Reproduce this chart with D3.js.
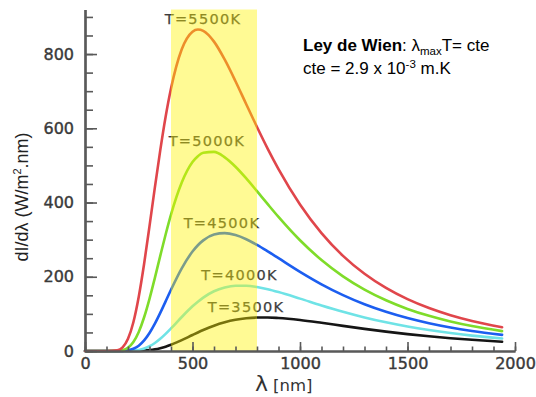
<!DOCTYPE html>
<html>
<head>
<meta charset="utf-8">
<script src="https://cdn.jsdelivr.net/npm/d3@7"></script>
<style>
  html, body { margin: 0; padding: 0; background: #fff; }
  svg { display: block; }
</style>
</head>
<body>
<svg id="chart" width="536" height="397"></svg>
<script>
// ---- data ----
const wavelengths = [0, 100, 150, 175, 200, 225, 250, 275, 300, 325, 350, 375, 400, 450, 500, 525, 550, 600, 650, 700, 750, 800, 850, 900, 1000, 1100, 1200, 1300, 1400, 1500, 1600, 1700, 1800, 1940];
const t5500 = [0, 0, 1.8, 9.8, 32.7, 77.5, 146.3, 235.1, 336.3, 440.8, 540.6, 631, 707, 812.8, 860.3, 866, 862.4, 833.4, 784.8, 726.8, 664.7, 603.3, 544.5, 490, 394.8, 317.7, 256.3, 208, 169.9, 139.6, 115.6, 96.3, 80.8, 63.9];
const t5000 = [0, 0, 0.3, 2.2, 8.8, 24.2, 51.4, 90.9, 140.6, 197.1, 256.2, 314, 367.5, 453.9, 509, 524.8, 534.2, 536.4, 521.8, 496.5, 465, 430.5, 395.5, 361.2, 298.3, 245.1, 201.1, 165.4, 136.7, 113.4, 94.7, 79.5, 67.1, 53.5];
const t4500 = [0, 0, 0, 0.35, 1.8, 5.9, 14.3, 28.4, 48.4, 73.7, 102.7, 133.8, 165.1, 222.8, 268, 284.9, 298, 313.7, 317.6, 312.5, 301.2, 285.9, 268.4, 250, 213.3, 179.7, 150.6, 126, 105.6, 88.8, 74.9, 63.4, 54, 43.4];
const t4000 = [0, 0, 0, 0, 0.24, 1, 2.9, 6.6, 12.8, 21.5, 32.8, 46.1, 60.8, 91.6, 120.4, 132.9, 143.9, 160.9, 171.1, 175.8, 175.8, 172.3, 166.3, 158.7, 141.1, 122.8, 105.7, 90.4, 77.2, 65.9, 56.4, 48.3, 41.5, 33.8];
const t3500 = [0, 0, 0, 0, 0, 0.1, 0.37, 1, 2.3, 4.4, 7.6, 11.7, 16.8, 29.2, 43.1, 49.9, 56.4, 68.2, 77.4, 84.1, 88.2, 90.1, 90.3, 88.9, 83.5, 75.9, 67.6, 59.6, 52.2, 45.5, 39.6, 34.5, 30.1, 24.9];

const seriesNames = ["T=3500K", "T=4000K", "T=4500K", "T=5000K", "T=5500K"];
const seriesValues = [t3500, t4000, t4500, t5000, t5500];
const seriesColors = ["#151515", "#6fe3e6", "#1c5ef0", "#7fdc2a", "#e0464b"];
// label centre points (wavelength, value) for the temperature labels
const labelLambda = [749, 719, 637, 567, 549];
const labelValue = [118, 205, 345, 566, 894];

const visibleBand = [400, 800];
const xTicksMajor = [0, 500, 1000, 1500, 2000];
const yTicksMajor = [0, 200, 400, 600, 800];

// ---- scales ----
const svg = d3.select("#chart");
const x = d3.scaleLinear().domain([0, 2000]).range([85, 515]);
const y = d3.scaleLinear().domain([0, 920]).range([351, 9.5]);

const axisColor = "#595959";

// ---- curves ----
const line = d3.line()
  .x(d => x(d[0]))
  .y(d => y(d[1]))
  .curve(d3.curveMonotoneX);

const curvesG = svg.append("g");
seriesValues.forEach((vals, i) => {
  const pts = wavelengths.map((w, j) => [w, vals[j]]);
  curvesG.append("path")
    .datum(pts)
    .attr("d", line)
    .attr("fill", "none")
    .attr("stroke", seriesColors[i])
    .attr("stroke-width", 2.6)
    .attr("stroke-linejoin", "round")
    .attr("stroke-linecap", "round");
});

// ---- temperature labels ----
const labelsG = svg.append("g");
seriesNames.forEach((name, i) => {
  labelsG.append("text")
    .attr("x", x(labelLambda[i]))
    .attr("y", y(labelValue[i]))
    .attr("dy", "0.36em")
    .attr("text-anchor", "middle")
    .attr("font-family", "DejaVu Sans, Verdana, sans-serif")
    .attr("font-size", 14.5)
    .attr("letter-spacing", 1.3)
    .attr("fill", "#3d3d3d")
    .attr("stroke", "#3d3d3d")
    .attr("stroke-width", 0.25)
    .text(name);
});

// ---- visible band (translucent yellow) ----
svg.append("rect")
  .attr("x", x(visibleBand[0]))
  .attr("width", x(visibleBand[1]) - x(visibleBand[0]))
  .attr("y", y(920))
  .attr("height", y(0) - y(920))
  .attr("fill", "#fff200")
  .attr("opacity", 0.42);

// ---- axes ----
const fmt = d3.format("d");
const yAxisMajor = d3.axisLeft(y).tickValues(yTicksMajor).tickSize(-12).tickSizeOuter(0).tickPadding(11).tickFormat(fmt);
const yAxisMinor = d3.axisLeft(y).tickValues(d3.range(0, 901, 50)).tickSize(-8).tickSizeOuter(0).tickFormat("");
const xAxisMajor = d3.axisBottom(x).tickValues(xTicksMajor).tickSize(-9).tickSizeOuter(0).tickPadding(7).tickFormat(fmt);
const xAxisMinor = d3.axisBottom(x).tickValues(d3.range(0, 2001, 100)).tickSize(-4.5).tickSizeOuter(0).tickFormat("");

function styleAxis(g) {
  g.select(".domain").attr("stroke", axisColor).attr("stroke-width", 2.2);
  g.selectAll(".tick line").attr("stroke", axisColor).attr("stroke-width", 1.6);
  g.selectAll(".tick text")
    .attr("fill", "#3a3a3a")
    .attr("stroke", "#3a3a3a")
    .attr("stroke-width", 0.4)
    .attr("font-family", "DejaVu Sans, Verdana, sans-serif")
    .attr("font-size", 16);
}

svg.append("g").attr("transform", `translate(${x(0)},0)`).call(yAxisMinor).call(styleAxis);
svg.append("g").attr("transform", `translate(${x(0)},0)`).call(yAxisMajor).call(styleAxis);
svg.append("g").attr("transform", `translate(0,${y(0)})`).call(xAxisMinor).call(styleAxis);
svg.append("g").attr("transform", `translate(0,${y(0)})`).call(xAxisMajor).call(styleAxis);

// ---- axis titles ----
const yTitle = svg.append("text")
  .attr("transform", "translate(28,197) rotate(-90)")
  .attr("text-anchor", "middle")
  .attr("font-family", "Liberation Sans, Arial, sans-serif")
  .attr("font-size", 18)
  .attr("fill", "#222");
yTitle.append("tspan").text("dI/dλ (W/m");
yTitle.append("tspan").attr("font-size", 11).attr("dy", -7).text("2");
yTitle.append("tspan").attr("dy", 7).text(".nm)");

const xTitle = svg.append("text")
  .attr("x", 255)
  .attr("y", 391)
  .attr("font-family", "DejaVu Sans, Verdana, sans-serif")
  .attr("fill", "#333");
xTitle.append("tspan").attr("font-size", 22).text("λ");
xTitle.append("tspan").attr("font-size", 16.5).attr("dx", 5).text("[nm]");

// ---- Wien annotation ----
const ann1 = svg.append("text")
  .attr("x", 303).attr("y", 51)
  .attr("font-family", "Liberation Sans, Arial, sans-serif")
  .attr("font-size", 17)
  .attr("fill", "#000");
ann1.append("tspan").attr("font-weight", "bold").text("Ley de Wien");
ann1.append("tspan").text(": λ");
ann1.append("tspan").attr("font-size", 11.5).attr("dy", 4).text("max");
ann1.append("tspan").attr("dy", -4).text("T= cte");

const ann2 = svg.append("text")
  .attr("x", 303).attr("y", 74)
  .attr("font-family", "Liberation Sans, Arial, sans-serif")
  .attr("font-size", 17)
  .attr("fill", "#000");
ann2.append("tspan").text("cte = 2.9 x 10");
ann2.append("tspan").attr("font-size", 11.5).attr("dy", -6).text("-3");
ann2.append("tspan").attr("dy", 6).text(" m.K");
</script>
</body>
</html>
